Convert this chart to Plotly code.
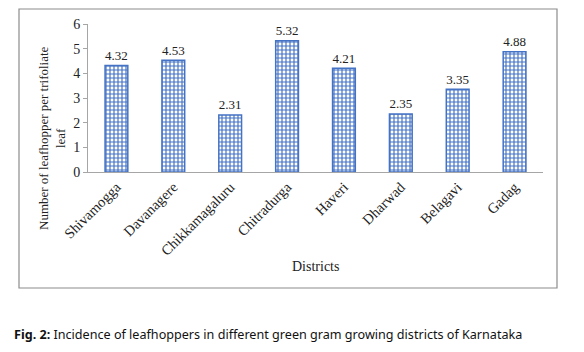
import plotly.graph_objects as go

districts = ["Shivamogga", "Davanagere", "Chikkamagaluru", "Chitradurga",
             "Haveri", "Dharwad", "Belagavi", "Gadag"]
values = [4.32, 4.53, 2.31, 5.32, 4.21, 2.35, 3.35, 4.88]
y_ticks = [0, 1, 2, 3, 4, 5, 6]

blue = "#4472C4"
serif = "Liberation Serif"

fig = go.Figure(go.Bar(
    x=districts, y=values,
    text=[f"{v:.2f}" for v in values],
    textposition="outside",
    textfont=dict(family=serif, size=15, color="#222"),
    cliponaxis=False,
    marker=dict(color="white",
                line=dict(color=blue, width=1.5),
                pattern=dict(shape="+", fgcolor=blue, bgcolor="white",
                             size=4, solidity=0.5, fillmode="replace")),
))

W, H = 584, 352
L, R, T, B = 88, 41, 24, 180
pw, ph = W - L - R, H - T - B

def px(x):
    return (x - L) / pw

def py(y):
    return (H - B - y) / ph

fig.update_layout(
    width=W, height=H,
    margin=dict(l=L, r=R, t=T, b=B),
    paper_bgcolor="white", plot_bgcolor="white",
    showlegend=False,
    bargap=0.6,
    xaxis=dict(showline=True, linecolor="#A6A6A6", linewidth=1,
               tickangle=-45, tickfont=dict(family=serif, size=14.5, color="#222"),
               ticks="", showgrid=False),
    yaxis=dict(range=[0, 6], tickvals=y_ticks, showline=True, linecolor="#A6A6A6",
               linewidth=1, ticks="outside", ticklen=4, tickcolor="#A6A6A6",
               tickfont=dict(family=serif, size=14, color="#222"),
               showgrid=False, zeroline=False),
    shapes=[dict(type="rect", xref="paper", yref="paper",
                 x0=px(19), x1=px(557), y0=py(288), y1=py(9),
                 line=dict(color="#8C8C8C", width=1.2))],
    annotations=[
        dict(text="Number of leafhopper per trifoliate<br>leaf", textangle=-90,
             xref="paper", yref="paper", x=px(52), y=py(138),
             showarrow=False, font=dict(family=serif, size=13, color="#222"),
             xanchor="center", yanchor="middle"),
        dict(text="Districts", xref="paper", yref="paper", x=px(315), y=py(266),
             showarrow=False, font=dict(family=serif, size=14, color="#222"),
             xanchor="center", yanchor="middle"),
        dict(text="<b>Fig. 2:</b> Incidence of leafhoppers in different green gram growing districts of Karnataka",
             xref="paper", yref="paper", x=px(12), y=py(334),
             showarrow=False, font=dict(family="Noto Sans", size=12.6, color="#111"),
             xanchor="left", yanchor="middle"),
    ],
)

fig.write_html("out.html")
